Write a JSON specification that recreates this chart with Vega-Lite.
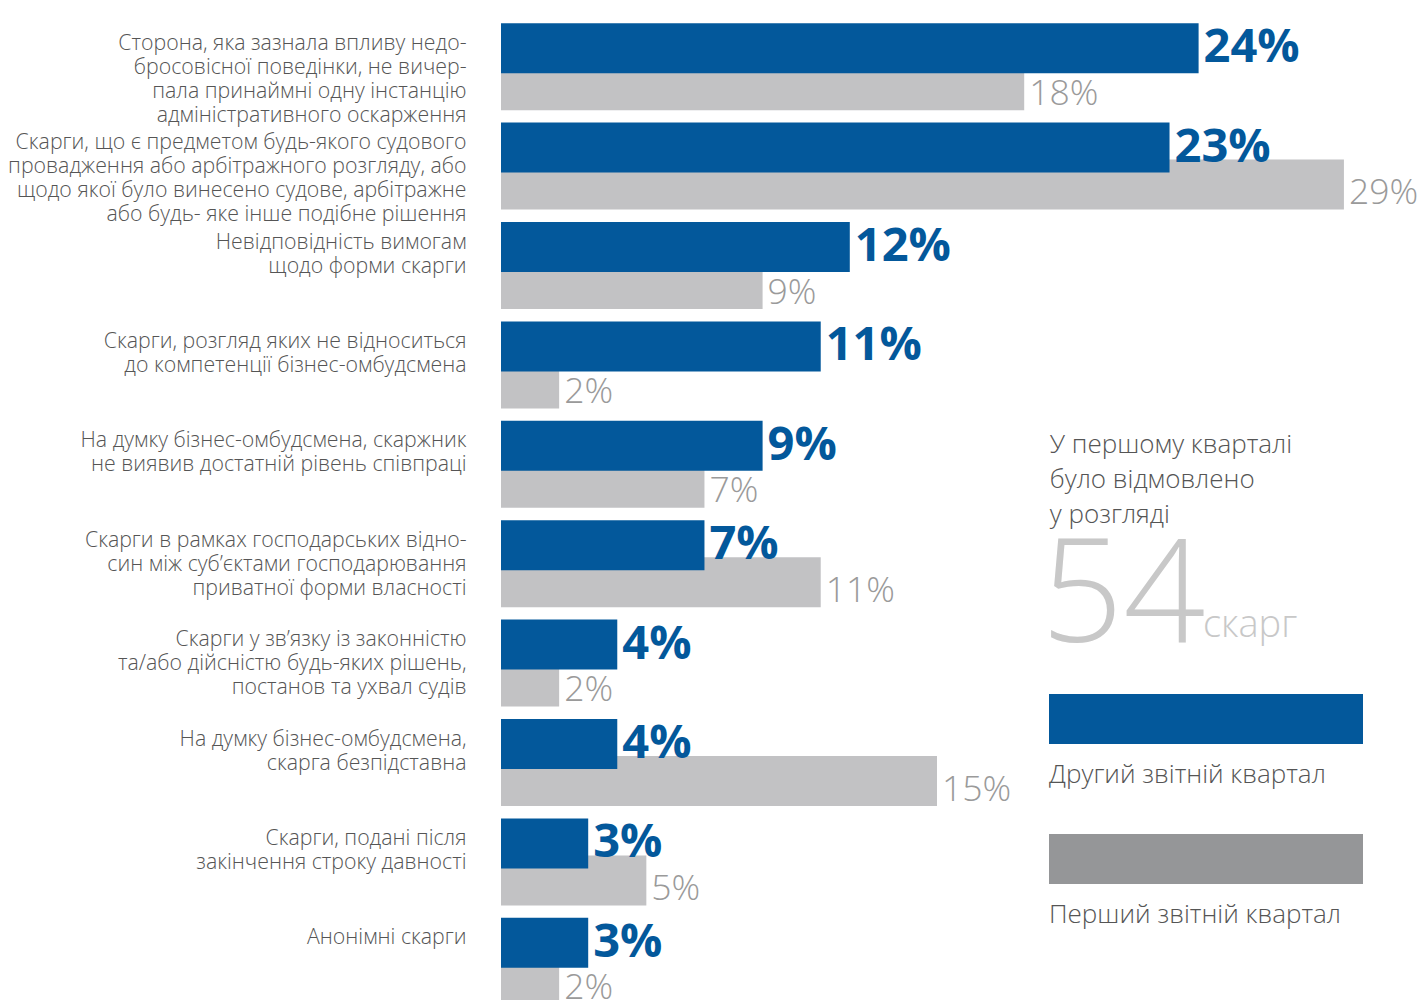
{
  "$schema": "https://vega.github.io/schema/vega-lite/v6.json",
  "autosize": {"type": "none"},
  "padding": {"left": 501, "top": 17, "right": 50, "bottom": 0},
  "width": 872,
  "height": 994,
  "background": "white",
  "config": {"view": {"stroke": null}, "font": "Open Sans"},
  "datasets": {
    "bars": [
      {"category": "Сторона, яка зазнала впливу недо-\nбросовісної поведінки, не вичер-\nпала принаймні одну інстанцію\nадміністративного оскарження", "series": "Перший звітній квартал", "value": 0.18},
      {"category": "Скарги, що є предметом будь-якого судового\nпровадження або арбітражного розгляду, або\nщодо якої було винесено судове, арбітражне\nабо будь- яке інше подібне рішення", "series": "Перший звітній квартал", "value": 0.29},
      {"category": "Невідповідність вимогам\nщодо форми скарги", "series": "Перший звітній квартал", "value": 0.09},
      {"category": "Скарги, розгляд яких не відноситься\nдо компетенції бізнес-омбудсмена", "series": "Перший звітній квартал", "value": 0.02},
      {"category": "На думку бізнес-омбудсмена, скаржник\nне виявив достатній рівень співпраці", "series": "Перший звітній квартал", "value": 0.07},
      {"category": "Скарги в рамках господарських відно-\nсин між суб’єктами господарювання\nприватної форми власності", "series": "Перший звітній квартал", "value": 0.11},
      {"category": "Скарги у зв’язку із законністю\nта/або дійсністю будь-яких рішень,\nпостанов та ухвал судів", "series": "Перший звітній квартал", "value": 0.02},
      {"category": "На думку бізнес-омбудсмена,\nскарга безпідставна", "series": "Перший звітній квартал", "value": 0.15},
      {"category": "Скарги, подані після\nзакінчення строку давності", "series": "Перший звітній квартал", "value": 0.05},
      {"category": "Анонімні скарги", "series": "Перший звітній квартал", "value": 0.02},
      {"category": "Сторона, яка зазнала впливу недо-\nбросовісної поведінки, не вичер-\nпала принаймні одну інстанцію\nадміністративного оскарження", "series": "Другий звітній квартал", "value": 0.24},
      {"category": "Скарги, що є предметом будь-якого судового\nпровадження або арбітражного розгляду, або\nщодо якої було винесено судове, арбітражне\nабо будь- яке інше подібне рішення", "series": "Другий звітній квартал", "value": 0.23},
      {"category": "Невідповідність вимогам\nщодо форми скарги", "series": "Другий звітній квартал", "value": 0.12},
      {"category": "Скарги, розгляд яких не відноситься\nдо компетенції бізнес-омбудсмена", "series": "Другий звітній квартал", "value": 0.11},
      {"category": "На думку бізнес-омбудсмена, скаржник\nне виявив достатній рівень співпраці", "series": "Другий звітній квартал", "value": 0.09},
      {"category": "Скарги в рамках господарських відно-\nсин між суб’єктами господарювання\nприватної форми власності", "series": "Другий звітній квартал", "value": 0.07},
      {"category": "Скарги у зв’язку із законністю\nта/або дійсністю будь-яких рішень,\nпостанов та ухвал судів", "series": "Другий звітній квартал", "value": 0.04},
      {"category": "На думку бізнес-омбудсмена,\nскарга безпідставна", "series": "Другий звітній квартал", "value": 0.04},
      {"category": "Скарги, подані після\nзакінчення строку давності", "series": "Другий звітній квартал", "value": 0.03},
      {"category": "Анонімні скарги", "series": "Другий звітній квартал", "value": 0.03}
    ],
    "heading": [{"t": "У першому кварталі\nбуло відмовлено\nу розгляді"}],
    "total": [{"t": "54"}],
    "unit": [{"t": "скарг"}]
  },
  "layer": [
    {
      "data": {"name": "bars"},
      "transform": [{"filter": "datum.series === 'Перший звітній квартал'"}],
      "mark": {"type": "bar", "height": 50, "yOffset": 18.5, "fillOpacity": 0.575},
      "encoding": {
        "y": {
          "field": "category", "type": "nominal", "sort": null,
          "scale": {"paddingInner": 0, "paddingOuter": 0},
          "axis": {
            "title": null, "domain": false, "ticks": false, "grid": false,
            "labelExpr": "split(datum.label, '\\n')",
            "labelAlign": "right", "labelBaseline": "top", "labelPadding": 35, "labelOffset": -34,
            "labelFont": "Open Sans", "labelFontSize": 21.3, "labelFontWeight": 300, "labelColor": "#555555",
            "labelLineHeight": 24, "labelLimit": 0, "labelOverlap": false, "labelBound": false
          }
        },
        "x": {"field": "value", "type": "quantitative", "scale": {"domain": [0, 0.3], "nice": false, "zero": true}, "axis": null},
        "color": {
          "field": "series", "type": "nominal",
          "scale": {"domain": ["Другий звітній квартал", "Перший звітній квартал"], "range": ["#03589b", "#959698"]},
          "legend": {
            "orient": "none", "legendX": 548, "legendY": 733, "title": null, "direction": "vertical",
            "symbolType": "M-1,-3.24H11.56V-1.24H-1Z", "symbolSize": 2500, "symbolStrokeWidth": 0, "symbolOpacity": 1,
            "labelOffset": -50, "labelFont": "Open Sans", "labelFontSize": 26, "labelFontWeight": 300,
            "labelColor": "#555555", "labelLimit": 0, "rowPadding": 46, "padding": 0
          }
        }
      }
    },
    {
      "data": {"name": "bars"},
      "transform": [{"filter": "datum.series === 'Другий звітній квартал'"}],
      "mark": {"type": "bar", "height": 50, "yOffset": -18.5},
      "encoding": {
        "y": {"field": "category", "type": "nominal", "sort": null},
        "x": {"field": "value", "type": "quantitative"},
        "color": {
          "field": "series", "type": "nominal",
          "scale": {"domain": ["Другий звітній квартал", "Перший звітній квартал"], "range": ["#03589b", "#959698"]},
          "legend": {
            "orient": "none", "legendX": 548, "legendY": 733, "title": null, "direction": "vertical",
            "symbolType": "M-1,-3.24H11.56V-1.24H-1Z", "symbolSize": 2500, "symbolStrokeWidth": 0, "symbolOpacity": 1,
            "labelOffset": -50, "labelFont": "Open Sans", "labelFontSize": 26, "labelFontWeight": 300,
            "labelColor": "#555555", "labelLimit": 0, "rowPadding": 46, "padding": 0
          }
        }
      }
    },
    {
      "data": {"name": "bars"},
      "transform": [{"filter": "datum.series === 'Другий звітній квартал'"}],
      "mark": {"type": "text", "align": "left", "baseline": "middle", "dx": 5, "dy": -18.5, "font": "Open Sans", "fontWeight": 700, "fontSize": 47, "color": "#03589b"},
      "encoding": {
        "y": {"field": "category", "type": "nominal", "sort": null},
        "x": {"field": "value", "type": "quantitative"},
        "text": {"field": "value", "type": "quantitative", "format": ".0%"}
      }
    },
    {
      "data": {"name": "bars"},
      "transform": [{"filter": "datum.series === 'Перший звітній квартал'"}],
      "mark": {"type": "text", "align": "left", "baseline": "middle", "dx": 5, "dy": 27, "font": "Open Sans", "fontWeight": 300, "fontSize": 35.5, "color": "#9a9a9a"},
      "encoding": {
        "y": {"field": "category", "type": "nominal", "sort": null},
        "x": {"field": "value", "type": "quantitative"},
        "text": {"field": "value", "type": "quantitative", "format": ".0%"}
      }
    },
    {
      "data": {"name": "heading"},
      "mark": {"type": "text", "align": "left", "baseline": "middle", "lineBreak": "\n", "lineHeight": 35, "dy": -19, "font": "Open Sans", "fontWeight": 300, "fontSize": 26, "color": "#555555"},
      "encoding": {
        "x": {"datum": 0.1888, "type": "quantitative"},
        "y": {"datum": "На думку бізнес-омбудсмена, скаржник\nне виявив достатній рівень співпраці", "type": "nominal"},
        "text": {"field": "t", "type": "nominal"}
      }
    },
    {
      "data": {"name": "total"},
      "mark": {"type": "text", "align": "left", "baseline": "alphabetic", "dy": -21, "font": "Open Sans", "fontWeight": 300, "fontSize": 144, "color": "#c8c8c8"},
      "encoding": {
        "x": {"datum": 0.1858, "type": "quantitative"},
        "y": {"datum": "Скарги у зв’язку із законністю\nта/або дійсністю будь-яких рішень,\nпостанов та ухвал судів", "type": "nominal"},
        "text": {"field": "t", "type": "nominal"}
      }
    },
    {
      "data": {"name": "unit"},
      "mark": {"type": "text", "align": "left", "baseline": "alphabetic", "dy": -26, "font": "Open Sans", "fontWeight": 300, "fontSize": 38, "color": "#c8c8c8"},
      "encoding": {
        "x": {"datum": 0.2415, "type": "quantitative"},
        "y": {"datum": "Скарги у зв’язку із законністю\nта/або дійсністю будь-яких рішень,\nпостанов та ухвал судів", "type": "nominal"},
        "text": {"field": "t", "type": "nominal"}
      }
    }
  ]
}
